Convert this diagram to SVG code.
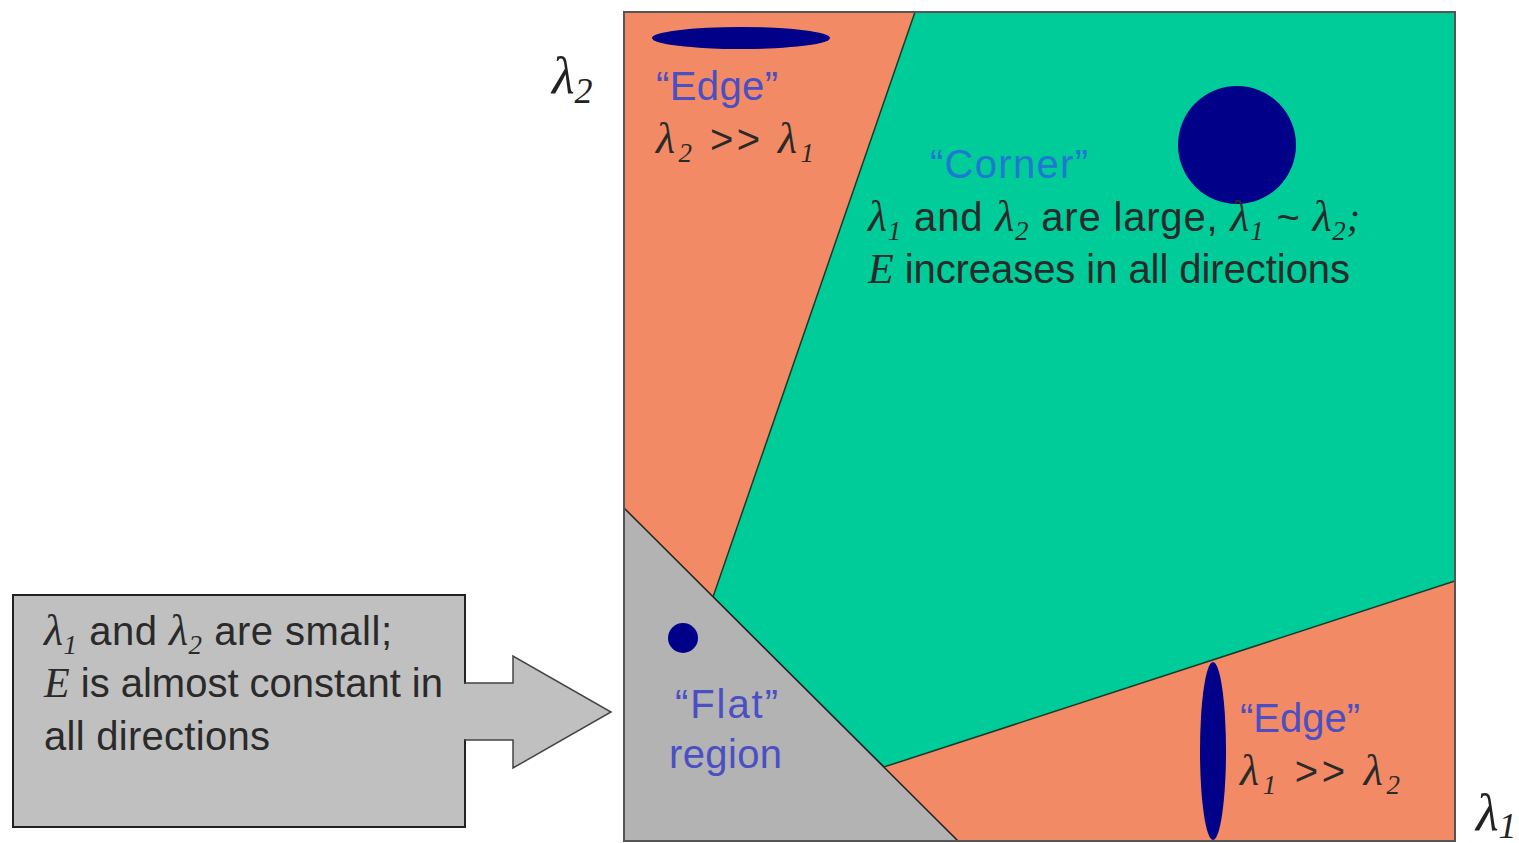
<svg xmlns="http://www.w3.org/2000/svg" width="1519" height="843" viewBox="0 0 1519 843">
<style>
.t{font-family:"Liberation Sans",Arial,sans-serif;font-size:40px}
.l{font-family:"Liberation Serif","Times New Roman",serif;font-style:italic}
.s{font-size:27px}
.dark{fill:#2a2a2a}
.blue{fill:#4a4fc4}
.cblue{fill:#1f78d1}
.blob{fill:#000088}
</style>
<rect width="1519" height="843" fill="#ffffff"/>
<g id="plot">
<rect x="624" y="12" width="831" height="829" fill="#F28B65" stroke="#555" stroke-width="2"/>
<polygon id="corner-region" points="915,12 1455,12 1455,581 884,767 713,597" fill="#00CC99" stroke="#1a3a2a" stroke-width="1.5"/>
<polygon id="flat-region" points="624,508 958,841 624,841" fill="#B3B3B3" stroke="#222" stroke-width="1.5"/>
<rect x="624" y="12" width="831" height="829" fill="none" stroke="#555" stroke-width="2"/>
</g>
<g id="axis-l2"><text class="l" x="552" y="93" font-size="52" fill="#222">λ<tspan font-size="36" dy="10">2</tspan></text></g>
<g id="axis-l1"><text class="l" x="1476" y="830" font-size="52" fill="#222">λ<tspan font-size="36" dy="8">1</tspan></text></g>
<g id="edge-top">
<ellipse class="blob" cx="741" cy="38" rx="89" ry="11"/>
<text class="t blue" x="656" y="100" textLength="122">“Edge”</text>
<text class="t dark" x="656" y="153" textLength="158"><tspan class="l" font-size="44">λ</tspan><tspan class="l s" dy="9">2</tspan><tspan dy="-9"> &gt;&gt; </tspan><tspan class="l" font-size="44">λ</tspan><tspan class="l s" dy="9">1</tspan></text>
</g>
<g id="corner">
<circle class="blob" cx="1237" cy="145" r="59"/>
<text class="t cblue" x="930" y="178" textLength="158">“Corner”</text>
<text class="t dark" x="868" y="231" textLength="492"><tspan class="l" font-size="44">λ</tspan><tspan class="l s" dy="9">1</tspan><tspan dy="-9"> and </tspan><tspan class="l" font-size="44">λ</tspan><tspan class="l s" dy="9">2</tspan><tspan dy="-9"> are large,  </tspan><tspan class="l" font-size="44">λ</tspan><tspan class="l s" dy="9">1</tspan><tspan dy="-9"> ~ </tspan><tspan class="l" font-size="44">λ</tspan><tspan class="l s" dy="9">2</tspan><tspan class="l" dy="-9">;</tspan></text>
<text class="t dark" x="868" y="283" textLength="482"><tspan class="l" font-size="42">E</tspan> increases in all directions</text>
</g>
<g id="flat">
<circle class="blob" cx="683" cy="638" r="15"/>
<text class="t blue" x="675" y="718" textLength="103">“Flat”</text>
<text class="t blue" x="669" y="768" textLength="113">region</text>
</g>
<g id="edge-bottom">
<ellipse class="blob" cx="1213" cy="751" rx="13" ry="89"/>
<text class="t blue" x="1240" y="732" textLength="120">“Edge”</text>
<text class="t dark" x="1240" y="785" textLength="160"><tspan class="l" font-size="44">λ</tspan><tspan class="l s" dy="9">1</tspan><tspan dy="-9"> &gt;&gt; </tspan><tspan class="l" font-size="44">λ</tspan><tspan class="l s" dy="9">2</tspan></text>
</g>
<g id="note">
<rect x="13" y="595" width="452" height="232" fill="#C0C0C0" stroke="#222" stroke-width="2"/>
<text class="t dark" x="44" y="645" textLength="348"><tspan class="l" font-size="44">λ</tspan><tspan class="l s" dy="9">1</tspan><tspan dy="-9"> and </tspan><tspan class="l" font-size="44">λ</tspan><tspan class="l s" dy="9">2</tspan><tspan dy="-9"> are small;</tspan></text>
<text class="t dark" x="44" y="697" textLength="399"><tspan class="l" font-size="42">E</tspan> is almost constant in</text>
<text class="t dark" x="44" y="750" textLength="226">all directions</text>
</g>
<g id="connectors">
<polygon points="465,683 513,683 513,656 611,712 513,768 513,740 465,740" fill="#C0C0C0" stroke="#444" stroke-width="1.5"/>
<line x1="465" y1="684" x2="465" y2="739" stroke="#C0C0C0" stroke-width="3"/>
</g>
</svg>
